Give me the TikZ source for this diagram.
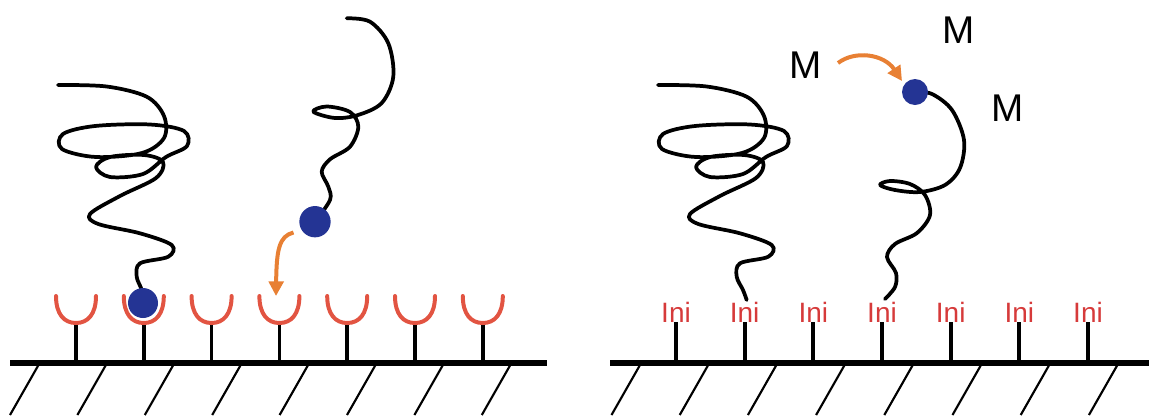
\documentclass[tikz,border=0pt]{standalone}
\usepackage{fontspec}
\setmainfont{Liberation Sans}
\usetikzlibrary{arrows.meta}
\definecolor{cupred}{RGB}{226,84,66}
\definecolor{inired}{RGB}{214,58,58}
\definecolor{ballblue}{RGB}{36,52,148}
\definecolor{arroworange}{RGB}{232,128,52}
\begin{document}
\begin{tikzpicture}[x=0.75pt,y=-0.75pt,
  surface/.style={line width=4.5pt},
  stem/.style={line width=2.8pt},
  hatchline/.style={line width=1.6pt},
  cup/.style={draw=cupred, line width=3pt, line cap=round},
  polymer/.style={line width=2.8pt, line cap=round, line join=round},
  ball/.style={circle, fill=ballblue, inner sep=0pt, minimum size=#1},
  monomer/.style={font=\fontsize{29}{30}\selectfont, inner sep=0pt},
  initiator/.style={font=\fontsize{21}{22}\selectfont, text=inired, anchor=base, inner sep=0pt},
  transfer/.style={draw=arroworange, line width=3pt, -{Triangle[length=11pt,width=11pt]}}
]
\useasboundingbox (0,0) rectangle (1149,419);

% ---------- left: grafting onto a receptor surface ----------
\coordinate (L0) at (10,363);
\coordinate (L1) at (547,363);
\foreach \i in {0,...,7}
  \draw[hatchline] ({38.5+67.4*\i},365) -- ++(-28.5,50);
\draw[surface] (L0) -- (L1);
\foreach \i in {1,...,7}{
  \pgfmathsetmacro\x{76+67.8*(\i-1)}
  \coordinate (ls\i) at (\x,363);
  \coordinate (lc\i) at (\x,323);
  \draw[stem] (ls\i) -- (lc\i);
  \draw[cup] ({\x-20},296) .. controls ({\x-20},314) and ({\x-12},323) .. (lc\i)
             .. controls ({\x+12},323) and ({\x+20},314) .. ({\x+20},296);
}

% anchored coil with its end group seated in the second receptor
\coordinate (lb1c) at (143,303);
\draw[polymer] plot[smooth, tension=0.55] coordinates {
  (58,85) (106.7,86.5) (146.7,96.7) (164,116) (164,138) (142,153)
  (96,157) (62,149) (63,134) (95,126) (150,124.5) (184,131) (187,146)
  (166,157) (143,174) (110,177) (96,167) (110,157) (144,155) (163,162)
  (156,178) (120,196) (90,214) (98.3,224) (140,233.3) (171.7,245)
  (168.3,256.7) (140,263.3) (136.7,276.7) (141.7,290) (lb1c)};
\node[ball=22.5pt] (lb1) at (lb1c) {};

% free chain approaching the surface
\coordinate (lf0) at (346.7,18.3);
\draw[polymer] plot[smooth, tension=0.55] coordinates {
  (lf0) (370,21.7) (388.3,43.3) (393.3,76.7) (381.7,103) (358,115)
  (335,118) (313.3,111.7) (326.7,106.5) (350,112) (358.3,126.7)
  (350,146.7) (330,159.3) (321.7,171.7) (328.3,186.7) (330,200)
  (315,221.7)};
\node[ball=23.5pt] (lb2) at (315,221.7) {};
\coordinate (la0) at (293.5,232.5);
\coordinate (la1) at (276,296);
\draw[transfer] (la0) .. controls (279,236) and (276.5,250) .. (la1);

% ---------- right: growth from surface-bound initiators ----------
\coordinate (R0) at (610,363);
\coordinate (R1) at (1149,363);
\foreach \i in {0,...,7}
  \draw[hatchline] ({640+68.2*\i},365) -- ++(-28.5,50);
\draw[surface] (R0) -- (R1);
\foreach \i in {1,...,7}{
  \pgfmathsetmacro\x{676+68.67*(\i-1)}
  \coordinate (rs\i) at (\x,363);
  \node[initiator] (ini\i) at (\x,322) {Ini};
  \draw[stem] (rs\i) -- (\x,322);
}

% grown coil
\draw[polymer] plot[smooth, tension=0.55] coordinates {
  (658,85) (706.7,86.5) (746.7,96.7) (764,116) (764,138) (742,153)
  (696,157) (662,149) (663,134) (695,126) (750,124.5) (784,131) (787,146)
  (766,157) (743,174) (710,177) (696,167) (710,157) (744,155) (763,162)
  (756,178) (720,196) (690,214) (698.3,224) (740,233.3) (771.7,245)
  (768.3,256.7) (740,263.3) (736.7,276.7) (743,290) (746.7,300)};

% growing chain with active end
\coordinate (rbc) at (915,92);
\draw[polymer] plot[smooth, tension=0.55] coordinates {
  (rbc) (932,94) (952,110) (964,140) (960,168) (945,185) (920,192)
  (895,190) (880,185) (890,181) (910,184) (925,195) (930,215) (917,233)
  (895,244) (887,257) (896,273) (895,287) (885,299)};
\node[ball=19.5pt] (rb) at (rbc) {};

% monomers
\node[monomer] (m1) at (806,65) {M};
\node[monomer] (m2) at (959,30) {M};
\node[monomer] (m3) at (1008,108) {M};
\coordinate (ra0) at (838,63);
\coordinate (ra1) at (902,81);
\draw[transfer] (ra0) .. controls (855,50) and (884,54) .. (ra1);
\end{tikzpicture}
\end{document}
